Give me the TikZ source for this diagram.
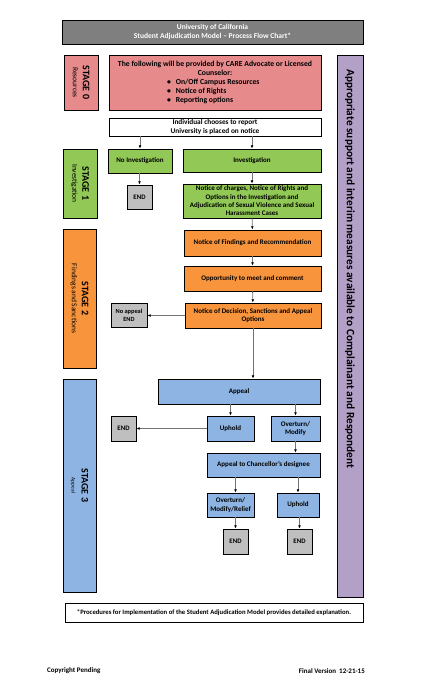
\documentclass[tikz,border=0pt]{standalone}
\usepackage{fontspec}
\setmainfont{Carlito}
\usepackage{tikz}
\usetikzlibrary{arrows.meta}

\definecolor{titlegray}{RGB}{127,127,127}
\definecolor{stagepink}{RGB}{230,138,140}
\definecolor{stagegreen}{RGB}{146,200,86}
\definecolor{stageorange}{RGB}{247,148,60}
\definecolor{stageblue}{RGB}{141,180,226}
\definecolor{supportpurple}{RGB}{179,160,199}
\definecolor{endgray}{RGB}{191,191,191}

\begin{document}
\begin{tikzpicture}[x=1pt,y=1pt,yscale=-1,xscale=1,
  flowbox/.style={draw=black, line width=0.9pt, inner sep=0pt, align=center, font=\bfseries\fontsize{7}{8.3}\selectfont},
  endbox/.style={flowbox, fill=endgray, minimum width=25pt, minimum height=24pt, font=\bfseries\fontsize{6.8}{7.5}\selectfont},
  stagebox/.style={flowbox, rotate=-90, font=\bfseries\fontsize{10}{11}\selectfont},
  flowarrow/.style={draw=black!55, line width=0.9pt, -{Latex[black,length=3.2pt,width=2.8pt]}}]
\useasboundingbox (0,0) rectangle (424,687);

% Title
\node [flowbox, fill=titlegray, text=white, minimum width=301pt, minimum height=24pt, font=\bfseries\fontsize{7.5}{9}\selectfont] (title) at (212.5,32) {University of California\\Student Adjudication Model -- Process Flow Chart*};

% Stage boxes
\node [stagebox, fill=stagepink, minimum width=55pt, minimum height=34pt] (stage0) at (81,82.5) {STAGE 0\\[-1pt]{\fontsize{7.5}{8}\mdseries Resources}};
\node [stagebox, fill=stagegreen, minimum width=69pt, minimum height=34pt] (stage1) at (80,183.5) {STAGE 1\\[-1pt]{\fontsize{7.5}{8}\mdseries Investigation}};
\node [stagebox, fill=stageorange, minimum width=139pt, minimum height=33pt] (stage2) at (79.5,298.5) {STAGE 2\\[-1pt]{\fontsize{7.5}{8}\mdseries Findings and Sanctions}};
\node [stagebox, fill=stageblue, minimum width=213pt, minimum height=33pt] (stage3) at (79.5,485.5) {STAGE 3\\[-1pt]{\fontsize{5.5}{6.5}\mdseries Appeal}};

% Support column
\node [flowbox, fill=supportpurple, minimum width=26pt, minimum height=542pt] (support) at (350,326) {};
\node [rotate=-90, anchor=west, inner sep=0pt, font=\bfseries\fontsize{11.3}{12}\selectfont] (supportlabel) at (350,69) {Appropriate support and interim measures available to Complainant and Respondent};

% Stage 0
\node [flowbox, fill=stagepink, minimum width=212pt, minimum height=55pt, font=\bfseries\fontsize{7.7}{9.2}\selectfont] (resources) at (215,82.5) {The following will be provided by CARE Advocate or Licensed\\Counselor:\\
\makebox[96pt][l]{\textbullet\hspace{5pt}On/Off Campus Resources}\\
\makebox[96pt][l]{\textbullet\hspace{5pt}Notice of Rights}\\
\makebox[96pt][l]{\textbullet\hspace{5pt}Reporting options}};
\node [flowbox, fill=white, minimum width=212pt, minimum height=18pt, font=\bfseries\fontsize{7.3}{9}\selectfont] (report) at (215,127) {Individual chooses to report\\University is placed on notice};

% Stage 1
\node [flowbox, fill=stagegreen, minimum width=64pt, minimum height=24pt] (noinv) at (140,161) {No Investigation};
\node [endbox] (endnoinv) at (139.5,197) {END};
\node [flowbox, fill=stagegreen, minimum width=138pt, minimum height=23pt] (inv) at (252,160.5) {Investigation};
\node [flowbox, fill=stagegreen, minimum width=138pt, minimum height=34pt, font=\bfseries\fontsize{7}{8.3}\selectfont] (charges) at (252,201) {Notice of charges, Notice of Rights and\\Options in the Investigation and\\Adjudication of Sexual Violence and Sexual\\Harassment Cases};

% Stage 2
\node [flowbox, fill=stageorange, minimum width=137pt, minimum height=26pt] (findings) at (252.5,243) {Notice of Findings and Recommendation};
\node [flowbox, fill=stageorange, minimum width=137pt, minimum height=25pt] (opportunity) at (252.5,278.5) {Opportunity to meet and comment};
\node [flowbox, fill=stageorange, minimum width=136pt, minimum height=25pt] (decision) at (253,315.5) {Notice of Decision, Sanctions and Appeal\\Options};
\node [endbox, minimum width=36pt, font=\bfseries\fontsize{6.3}{7.5}\selectfont] (noappeal) at (129,315.5) {No appeal\\END};

% Stage 3
\node [flowbox, fill=stageblue, minimum width=162pt, minimum height=25pt] (appeal) at (239,391.5) {Appeal};
\node [flowbox, fill=stageblue, minimum width=47pt, minimum height=25pt] (uphold) at (230.5,428.5) {Uphold};
\node [flowbox, fill=stageblue, minimum width=49pt, minimum height=25pt] (overturn) at (295.5,428.5) {Overturn/\\Modify};
\node [endbox, minimum height=25pt] (endupheld) at (123.5,428.5) {END};
\node [flowbox, fill=stageblue, minimum width=113pt, minimum height=24pt] (chancellor) at (263.5,465) {Appeal to Chancellor's designee};
\node [flowbox, fill=stageblue, minimum width=47pt, minimum height=24pt] (relief) at (230.5,505) {Overturn/\\Modify/Relief};
\node [flowbox, fill=stageblue, minimum width=42pt, minimum height=24pt] (finaluphold) at (298,505) {Uphold};
\node [endbox, minimum height=25pt] (endrelief) at (235.5,541.5) {END};
\node [endbox, minimum height=25pt] (enduphold) at (299.5,541.5) {END};

% Footer
\node [flowbox, fill=white, minimum width=298pt, minimum height=19pt, font=\bfseries\fontsize{6.7}{7.5}\selectfont] (footnote) at (214,612.5) {*Procedures for Implementation of the Student Adjudication Model provides detailed explanation.};
\node [anchor=west, inner sep=0pt, font=\bfseries\fontsize{7}{8}\selectfont] (copyright) at (47,671) {Copyright Pending};
\node [anchor=east, inner sep=0pt, font=\bfseries\fontsize{7}{8}\selectfont] (version) at (365,671) {Final Version\ \ 12-21-15};

% Arrows
\draw [flowarrow] (noinv.north |- report.south) -- (noinv.north);
\draw [flowarrow] (inv.north |- report.south) -- (inv.north);
\draw [flowarrow] (endnoinv.north |- noinv.south) -- (endnoinv.north);
\draw [flowarrow] (inv) -- (charges);
\draw [flowarrow] (charges) -- (findings);
\draw [flowarrow] (findings) -- (opportunity);
\draw [flowarrow] (opportunity) -- (decision);
\draw [flowarrow] (decision.west) -- (noappeal.east);
\draw [flowarrow] (decision.south) -- (decision.south |- appeal.north);
\draw [flowarrow] (uphold.north |- appeal.south) -- (uphold.north);
\draw [flowarrow] (overturn.north |- appeal.south) -- (overturn.north);
\draw [flowarrow] (uphold.west) -- (endupheld.east);
\draw [flowarrow] (overturn.south) -- (overturn.south |- chancellor.north);
\draw [flowarrow] (endrelief.north |- chancellor.south) -- (endrelief.north |- relief.north);
\draw [flowarrow] (finaluphold.north |- chancellor.south) -- (finaluphold.north);
\draw [flowarrow] (endrelief.north |- relief.south) -- (endrelief.north);
\draw [flowarrow] (enduphold.north |- finaluphold.south) -- (enduphold.north);

\end{tikzpicture}
\end{document}
